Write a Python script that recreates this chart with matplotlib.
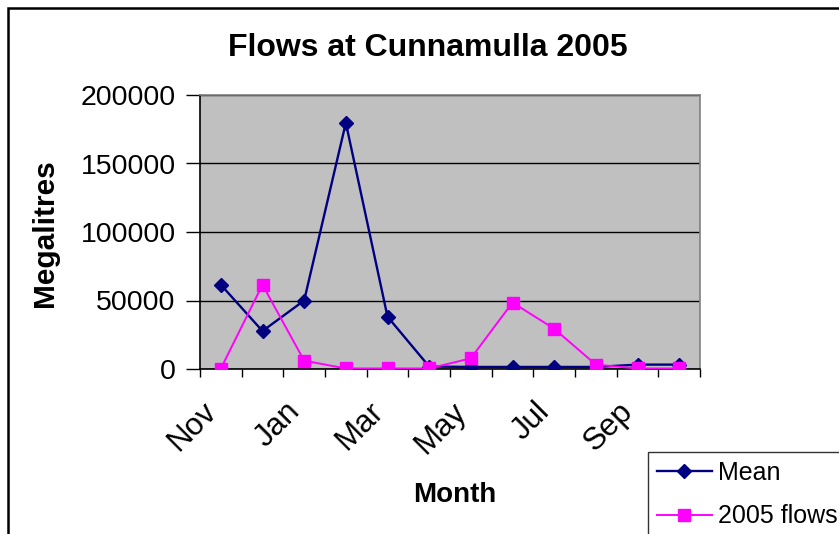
import matplotlib
matplotlib.use("Agg")
import matplotlib.pyplot as plt
from matplotlib.patches import Rectangle
import matplotlib.transforms as mtransforms
import numpy as np

months = ["Nov", "Dec", "Jan", "Feb", "Mar", "Apr", "May", "Jun", "Jul", "Aug", "Sep", "Oct"]
mean_flows = [61500, 27700, 50000, 179700, 38200, 1800, 1500, 1500, 1500, 1500, 3200, 3200]
flows_2005 = [300, 61500, 6100, 400, 400, 400, 7800, 48500, 29400, 3200, 400, 400]
yticks = [0, 50000, 100000, 150000, 200000]

plt.rcParams['font.family'] = ['Liberation Sans', 'DejaVu Sans']

W, H = 839, 534
fig = plt.figure(figsize=(W / 100, H / 100), dpi=100)
ax = fig.add_axes([200 / W, 1 - 369 / H, 500 / W, 274 / H])

x = np.arange(len(months))
ax.set_facecolor('#C0C0C0')
ax.plot(x, mean_flows, color='#000080', lw=1.7, marker='D', ms=7.3,
        mfc='#000080', mec='#000080', label='Mean', zorder=3)
ax.plot(x, flows_2005, color='#FF00FF', lw=1.4, marker='s', ms=9,
        mfc='#FF00FF', mec='#FF00FF', label='2005 flows', zorder=4)

ax.set_xlim(-0.5, len(months) - 0.5)
ax.set_ylim(0, 200000)
ax.set_yticks(yticks)
ax.set_yticklabels([str(v) for v in yticks], fontsize=20.5)
ax.yaxis.grid(True, color='black', lw=1)
ax.set_axisbelow(True)

ax.set_xticks(np.arange(-0.5, len(months), 1.0))
ax.set_xticklabels([])
ax.tick_params(axis='x', which='major', length=6, width=1, direction='out', color='black')
ax.tick_params(axis='y', length=10, width=1, direction='out', color='black', pad=7.5)

# category labels (every other month), rotated like the reference
base = mtransforms.blended_transform_factory(ax.transData, ax.transAxes)
off = mtransforms.ScaledTranslation(-9 / 100, -38 / 100, fig.dpi_scale_trans)
for i in x[::2]:
    ax.text(i, 0, months[i], transform=base + off, rotation=45, ha='right',
            va='center', rotation_mode='anchor', fontsize=22.5, clip_on=False)

for s in ['top', 'right']:
    ax.spines[s].set_color('#808080')
    ax.spines[s].set_linewidth(1.2)
for s in ['left', 'bottom']:
    ax.spines[s].set_color('black')
    ax.spines[s].set_linewidth(1.2)

fig.text(428 / W, 1 - 48 / H, 'Flows at Cunnamulla 2005', ha='center', va='center',
         fontsize=23, fontweight='bold')
fig.text(45 / W, 1 - 233 / H, 'Megalitres', ha='center', va='center', rotation=90,
         fontsize=21.5, fontweight='bold')
fig.text(455 / W, 1 - 495 / H, 'Month', ha='center', va='center',
         fontsize=20, fontweight='bold')

leg = fig.legend(loc='upper left', bbox_to_anchor=(648 / W, 1 - 452 / H),
                 fontsize=18, frameon=True, fancybox=False, handlelength=2.2,
                 handletextpad=0.25, borderpad=0.35, labelspacing=0.78,
                 borderaxespad=0)
leg.get_frame().set_edgecolor('black')
leg.get_frame().set_linewidth(1)

fig.patches.append(Rectangle((8 / W, -0.1), 1.2, 1 - 8 / H + 0.1, transform=fig.transFigure,
                             fill=False, edgecolor='black', lw=1.8, clip_on=False))

fig.savefig('out.png', dpi=100, facecolor='white')
